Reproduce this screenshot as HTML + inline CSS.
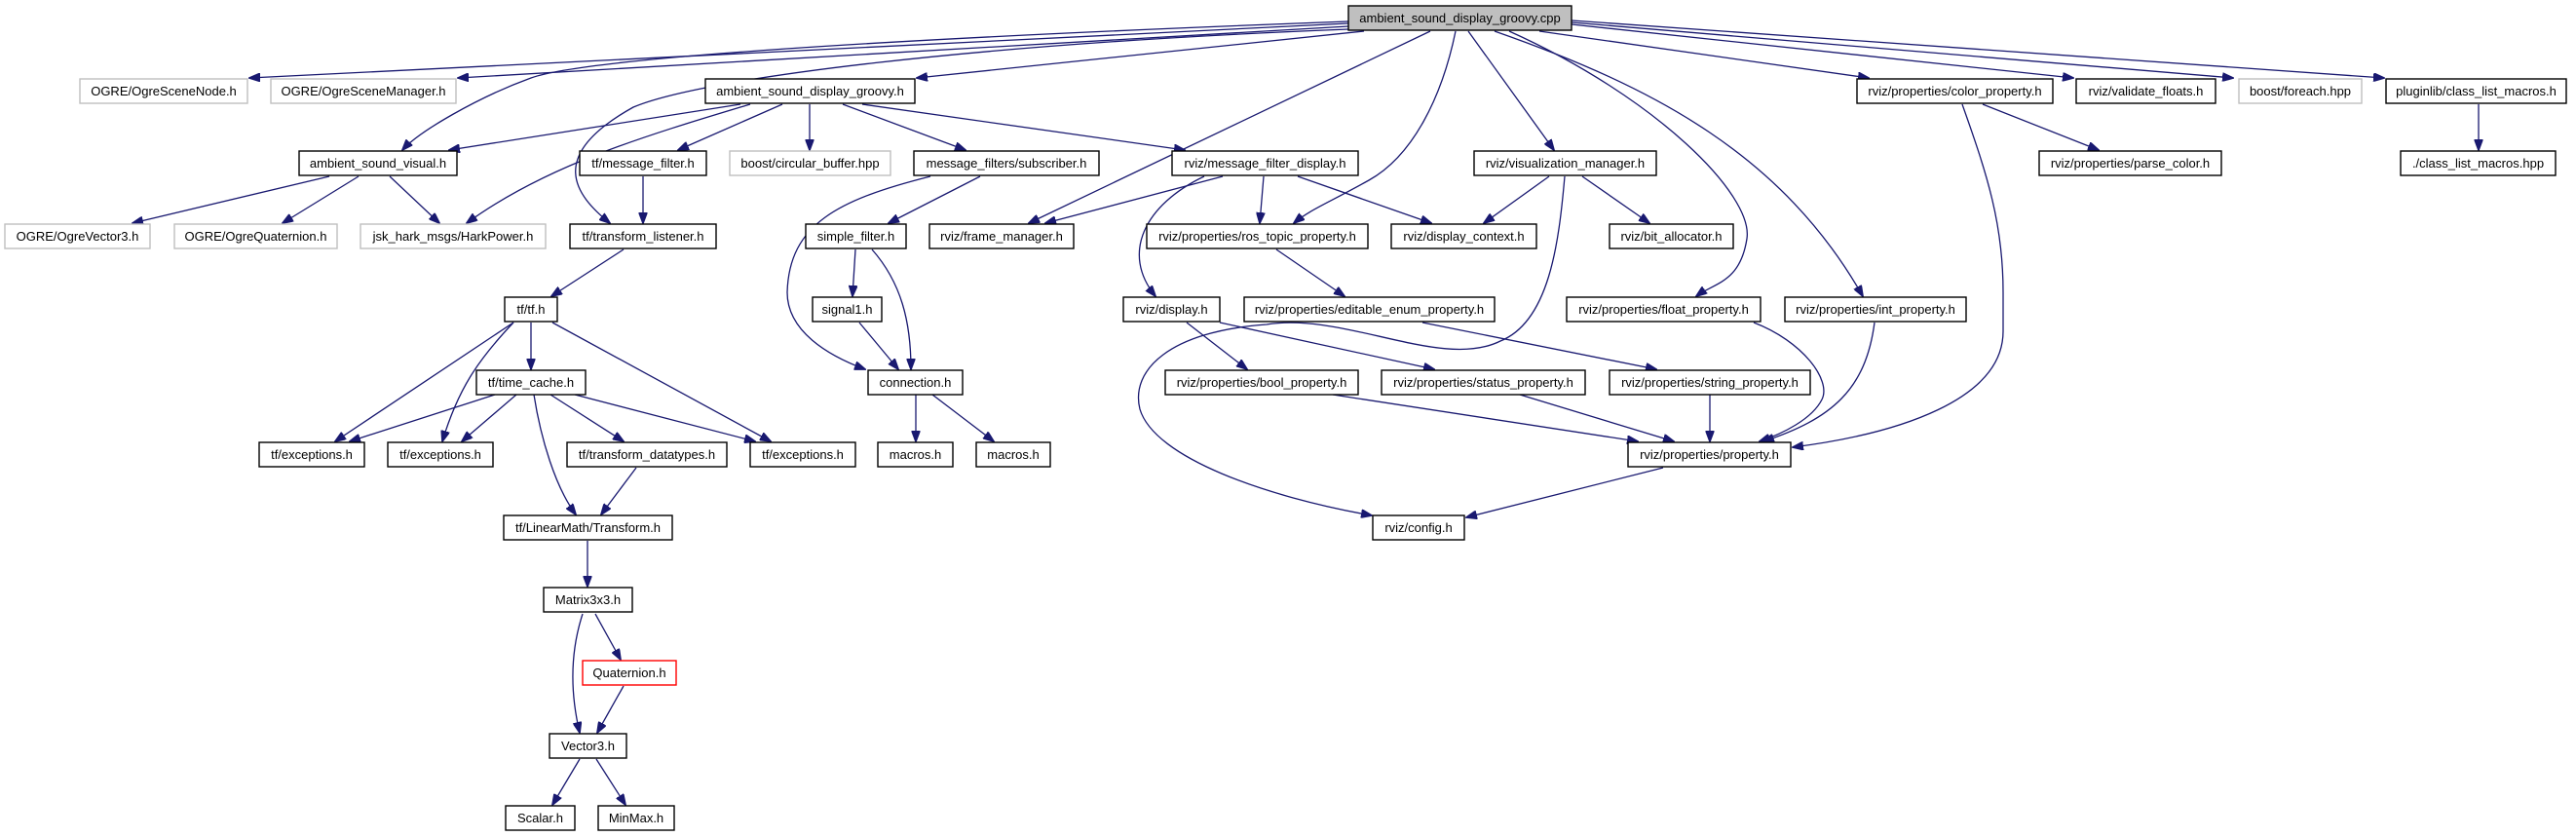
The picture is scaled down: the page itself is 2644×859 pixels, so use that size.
<!DOCTYPE html>
<html><head><meta charset="utf-8">
<style>
html,body{margin:0;padding:0;background:#fff;}
svg{display:block;}
text{font-family:"Liberation Sans",Arial,sans-serif;font-size:13px;fill:#000;text-anchor:middle;dominant-baseline:central;}
.b{fill:#fff;stroke:#000;stroke-width:1.4;}
.g{fill:#fff;stroke:#bfbfbf;stroke-width:1.4;}
.r{fill:#fff;stroke:#ff0000;stroke-width:1.4;}
.c{fill:#bfbfbf;stroke:#000;stroke-width:1.4;}
path.e{fill:none;stroke:#191970;stroke-width:1.3;marker-end:url(#ah);}
</style></head><body>
<svg width="2644" height="859" viewBox="0 0 2644 859" xmlns="http://www.w3.org/2000/svg">
<defs><marker id="ah" markerUnits="userSpaceOnUse" markerWidth="12" markerHeight="9" refX="11" refY="4.5" orient="auto"><path d="M0,0 L12,4.5 L0,9 z" fill="#191970" stroke="#191970"/></marker></defs>

<!-- edges -->
<path class="e" d="M1384,24 L256,80"/>
<path class="e" d="M1384,27 L470,80"/>
<path class="e" d="M1400,32 L941,80"/>
<path class="e" d="M1384,22 C900,40 600,60 545,80 S430,135 413,154"/>
<path class="e" d="M1384,30 C1000,45 720,80 650,110 C560,160 590,200 626,229"/>
<path class="e" d="M1468,32 L1056,229"/>
<path class="e" d="M1494,32 C1480,100 1450,160 1405,185 S1345,215 1328,229"/>
<path class="e" d="M1507,32 L1595,154"/>
<path class="e" d="M1534,32 C1700,90 1830,160 1912,304"/>
<path class="e" d="M1549,32 C1700,100 1800,200 1793,245 S1760,290 1741,304"/>
<path class="e" d="M1580,32 L1918,80"/>
<path class="e" d="M1613,25 L2128,80"/>
<path class="e" d="M1613,23 L2292,80"/>
<path class="e" d="M1613,21 L2447,80"/>

<path class="e" d="M760,107 L461,154"/>
<path class="e" d="M770,107 C660,140 560,170 479,229"/>
<path class="e" d="M803,107 L696,154"/>
<path class="e" d="M831,107 L831,154"/>
<path class="e" d="M865,107 L991,154"/>
<path class="e" d="M885,107 L1216,154"/>

<path class="e" d="M338,181 L136,229"/>
<path class="e" d="M368,181 L290,229"/>
<path class="e" d="M400,181 L451,229"/>
<path class="e" d="M660,181 L660,229"/>
<path class="e" d="M640,256 L566,304"/>
<path class="e" d="M1006,181 L912,229"/>
<path class="e" d="M955,181 C860,205 810,230 808,300 C808,340 850,365 888,379"/>
<path class="e" d="M878,256 L875,304"/>
<path class="e" d="M895,256 C925,290 935,330 935,379"/>
<path class="e" d="M882,331 L922,379"/>

<path class="e" d="M1255,181 L1073,229"/>
<path class="e" d="M1297,181 L1293,229"/>
<path class="e" d="M1332,181 L1469,229"/>
<path class="e" d="M1236,181 C1175,210 1150,260 1186,304"/>
<path class="e" d="M1590,181 L1523,229"/>
<path class="e" d="M1624,181 L1693,229"/>
<path class="e" d="M1606,181 C1600,250 1590,330 1540,350 C1480,380 1380,320 1300,333 C1200,340 1160,380 1170,420 C1185,470 1300,510 1408,529"/>
<path class="e" d="M1310,256 L1380,304"/>
<path class="e" d="M1218,331 L1280,379"/>
<path class="e" d="M1252,331 L1472,379"/>
<path class="e" d="M1460,331 L1700,379"/>
<path class="e" d="M1800,331 C1850,350 1880,390 1870,410 C1860,430 1830,445 1806,453"/>
<path class="e" d="M1924,331 C1915,400 1880,430 1810,453"/>
<path class="e" d="M2014,107 C2040,180 2056,230 2056,300 L2056,340 C2056,410 1950,445 1840,459"/>
<path class="e" d="M2035,107 L2154,154"/>
<path class="e" d="M2544,107 L2544,154"/>
<path class="e" d="M1368,405 L1681,453"/>
<path class="e" d="M1560,405 L1718,453"/>
<path class="e" d="M1755,405 L1755,453"/>
<path class="e" d="M1707,480 L1505,531"/>
<path class="e" d="M940,405 L940,453"/>
<path class="e" d="M957,405 L1020,453"/>

<path class="e" d="M527,331 L344,453"/>
<path class="e" d="M527,331 C490,370 470,400 454,453"/>
<path class="e" d="M545,331 L545,379"/>
<path class="e" d="M567,331 L791,453"/>
<path class="e" d="M508,405 L359,453"/>
<path class="e" d="M530,405 L474,453"/>
<path class="e" d="M548,405 C555,450 570,500 591,528"/>
<path class="e" d="M565,405 L640,453"/>
<path class="e" d="M590,405 L775,453"/>
<path class="e" d="M653,480 L617,528"/>
<path class="e" d="M603,555 L603,602"/>
<path class="e" d="M598,630 C585,670 585,710 595,752"/>
<path class="e" d="M611,630 L637,677"/>
<path class="e" d="M640,704 L613,752"/>
<path class="e" d="M595,779 L567,826"/>
<path class="e" d="M612,779 L642,826"/>

<!-- nodes -->
<rect class="c" x="1384" y="6" width="229" height="25"/><text x="1498.5" y="18.5">ambient_sound_display_groovy.cpp</text>

<rect class="g" x="82" y="81" width="172" height="25"/><text x="168" y="93.5">OGRE/OgreSceneNode.h</text>
<rect class="g" x="278" y="81" width="190" height="25"/><text x="373" y="93.5">OGRE/OgreSceneManager.h</text>
<rect class="b" x="724" y="81" width="215" height="25"/><text x="831.5" y="93.5">ambient_sound_display_groovy.h</text>
<rect class="b" x="1906" y="81" width="201" height="25"/><text x="2006.5" y="93.5">rviz/properties/color_property.h</text>
<rect class="b" x="2131" y="81" width="143" height="25"/><text x="2202.5" y="93.5">rviz/validate_floats.h</text>
<rect class="g" x="2298" y="81" width="126" height="25"/><text x="2361" y="93.5">boost/foreach.hpp</text>
<rect class="b" x="2449" y="81" width="185" height="25"/><text x="2541.5" y="93.5">pluginlib/class_list_macros.h</text>

<rect class="b" x="307" y="155" width="162" height="25"/><text x="388" y="167.5">ambient_sound_visual.h</text>
<rect class="b" x="595" y="155" width="130" height="25"/><text x="660" y="167.5">tf/message_filter.h</text>
<rect class="g" x="749" y="155" width="165" height="25"/><text x="831.5" y="167.5">boost/circular_buffer.hpp</text>
<rect class="b" x="938" y="155" width="190" height="25"/><text x="1033" y="167.5">message_filters/subscriber.h</text>
<rect class="b" x="1203" y="155" width="191" height="25"/><text x="1298.5" y="167.5">rviz/message_filter_display.h</text>
<rect class="b" x="1513" y="155" width="187" height="25"/><text x="1606.5" y="167.5">rviz/visualization_manager.h</text>
<rect class="b" x="2093" y="155" width="187" height="25"/><text x="2186.5" y="167.5">rviz/properties/parse_color.h</text>
<rect class="b" x="2464" y="155" width="159" height="25"/><text x="2543.5" y="167.5">./class_list_macros.hpp</text>

<rect class="g" x="5" y="230" width="149" height="25"/><text x="79.5" y="242.5">OGRE/OgreVector3.h</text>
<rect class="g" x="179" y="230" width="167" height="25"/><text x="262.5" y="242.5">OGRE/OgreQuaternion.h</text>
<rect class="g" x="370" y="230" width="190" height="25"/><text x="465" y="242.5">jsk_hark_msgs/HarkPower.h</text>
<rect class="b" x="585" y="230" width="150" height="25"/><text x="660" y="242.5">tf/transform_listener.h</text>
<rect class="b" x="827" y="230" width="103" height="25"/><text x="878.5" y="242.5">simple_filter.h</text>
<rect class="b" x="954" y="230" width="148" height="25"/><text x="1028" y="242.5">rviz/frame_manager.h</text>
<rect class="b" x="1177" y="230" width="227" height="25"/><text x="1290.5" y="242.5">rviz/properties/ros_topic_property.h</text>
<rect class="b" x="1428" y="230" width="149" height="25"/><text x="1502.5" y="242.5">rviz/display_context.h</text>
<rect class="b" x="1652" y="230" width="127" height="25"/><text x="1715.5" y="242.5">rviz/bit_allocator.h</text>

<rect class="b" x="518" y="305" width="54" height="25"/><text x="545" y="317.5">tf/tf.h</text>
<rect class="b" x="834" y="305" width="71" height="25"/><text x="869.5" y="317.5">signal1.h</text>
<rect class="b" x="1153" y="305" width="99" height="25"/><text x="1202.5" y="317.5">rviz/display.h</text>
<rect class="b" x="1277" y="305" width="257" height="25"/><text x="1405.5" y="317.5">rviz/properties/editable_enum_property.h</text>
<rect class="b" x="1608" y="305" width="199" height="25"/><text x="1707.5" y="317.5">rviz/properties/float_property.h</text>
<rect class="b" x="1832" y="305" width="186" height="25"/><text x="1925" y="317.5">rviz/properties/int_property.h</text>

<rect class="b" x="489" y="380" width="112" height="25"/><text x="545" y="392.5">tf/time_cache.h</text>
<rect class="b" x="891" y="380" width="97" height="25"/><text x="939.5" y="392.5">connection.h</text>
<rect class="b" x="1196" y="380" width="198" height="25"/><text x="1295" y="392.5">rviz/properties/bool_property.h</text>
<rect class="b" x="1418" y="380" width="209" height="25"/><text x="1522.5" y="392.5">rviz/properties/status_property.h</text>
<rect class="b" x="1652" y="380" width="206" height="25"/><text x="1755" y="392.5">rviz/properties/string_property.h</text>

<rect class="b" x="266" y="454" width="108" height="25"/><text x="320" y="466.5">tf/exceptions.h</text>
<rect class="b" x="398" y="454" width="108" height="25"/><text x="452" y="466.5">tf/exceptions.h</text>
<rect class="b" x="582" y="454" width="164" height="25"/><text x="664" y="466.5">tf/transform_datatypes.h</text>
<rect class="b" x="770" y="454" width="108" height="25"/><text x="824" y="466.5">tf/exceptions.h</text>
<rect class="b" x="901" y="454" width="77" height="25"/><text x="939.5" y="466.5">macros.h</text>
<rect class="b" x="1002" y="454" width="76" height="25"/><text x="1040" y="466.5">macros.h</text>
<rect class="b" x="1671" y="454" width="167" height="25"/><text x="1754.5" y="466.5">rviz/properties/property.h</text>

<rect class="b" x="517" y="529" width="173" height="25"/><text x="603.5" y="541.5">tf/LinearMath/Transform.h</text>
<rect class="b" x="1409" y="529" width="94" height="25"/><text x="1456" y="541.5">rviz/config.h</text>

<rect class="b" x="558" y="603" width="91" height="25"/><text x="603.5" y="615.5">Matrix3x3.h</text>
<rect class="r" x="598" y="678" width="96" height="25"/><text x="646" y="690.5">Quaternion.h</text>
<rect class="b" x="564" y="753" width="79" height="25"/><text x="603.5" y="765.5">Vector3.h</text>
<rect class="b" x="519" y="827" width="71" height="25"/><text x="554.5" y="839.5">Scalar.h</text>
<rect class="b" x="614" y="827" width="78" height="25"/><text x="653" y="839.5">MinMax.h</text>
</svg>
</body></html>
